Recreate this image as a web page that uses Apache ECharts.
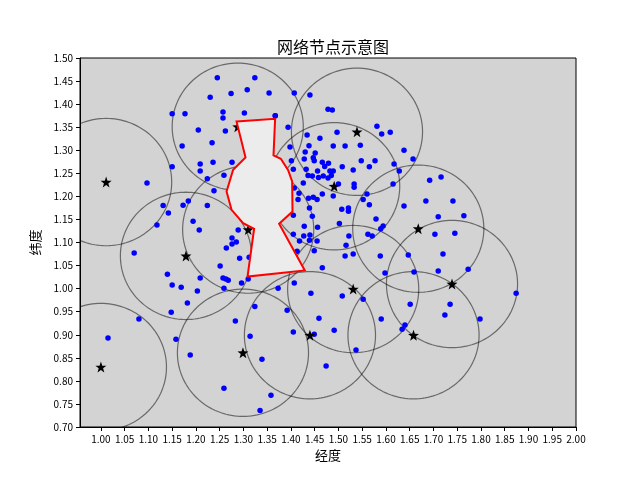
<!DOCTYPE html>
<html><head><meta charset="utf-8">
<script src="https://cdn.jsdelivr.net/npm/echarts@6/dist/echarts.min.js"></script>
<style>html,body{margin:0;padding:0;background:#fff}#c{width:640px;height:480px}</style>
</head><body><div id="c"></div>
<script>
// ---- data ----
const xTicks = [1.00,1.05,1.10,1.15,1.20,1.25,1.30,1.35,1.40,1.45,1.50,1.55,1.60,1.65,1.70,1.75,1.80,1.85,1.90,1.95,2.00];
const yTicks = [0.70,0.75,0.80,0.85,0.90,0.95,1.00,1.05,1.10,1.15,1.20,1.25,1.30,1.35,1.40,1.45,1.50];
const xRange = [0.956, 2.0];
const yRange = [0.70, 1.50];

const nodeLon = [1.245,1.274,1.230,1.257,1.257,1.150,1.177,1.205,1.262,1.171,1.234,1.150,1.209,1.236,1.276,1.209,1.097,1.259,1.224,1.238,
1.131,1.173,1.184,1.142,1.224,1.118,1.194,1.207,1.289,1.308,1.302,1.324,1.354,1.407,1.440,1.367,1.478,1.487,1.394,1.581,
1.591,1.609,1.434,1.461,1.497,1.398,1.430,1.438,1.451,1.489,1.514,1.546,1.638,1.657,1.401,1.428,1.447,1.449,1.466,1.479,
1.471,1.548,1.577,1.508,1.565,1.531,1.405,1.432,1.456,1.482,1.489,1.436,1.445,1.458,1.468,1.478,1.485,1.617,1.628,1.426,
1.500,1.533,1.533,1.615,1.692,1.716,1.407,1.417,1.466,1.489,1.560,1.415,1.437,1.447,1.455,1.552,1.565,1.507,1.521,1.521,
1.439,1.405,1.445,1.579,1.638,1.684,1.741,1.710,1.764,1.428,1.456,1.502,1.589,1.594,1.405,1.427,1.440,1.439,1.418,1.455,
1.413,1.449,1.522,1.516,1.514,1.531,1.562,1.571,1.588,1.647,1.659,1.598,1.466,1.703,1.745,1.720,1.710,1.773,1.874,1.735,
1.724,1.798,1.276,1.285,1.276,1.264,1.292,1.312,1.251,1.257,1.263,1.268,1.296,1.310,1.259,1.140,1.150,1.169,1.209,1.203,
1.182,1.148,1.080,1.015,1.158,1.188,1.259,1.070,1.283,1.324,1.314,1.339,1.358,1.335,1.373,1.407,1.392,1.405,1.442,1.459,
1.449,1.491,1.474,1.508,1.537,1.552,1.590,1.651,1.634,1.640,1.367];
const nodeLat = [1.457,1.423,1.415,1.383,1.370,1.379,1.379,1.344,1.342,1.309,1.316,1.264,1.270,1.274,1.274,1.255,1.229,1.246,1.238,1.212,
1.180,1.181,1.190,1.164,1.180,1.138,1.146,1.127,1.127,1.431,1.381,1.457,1.424,1.424,1.420,1.375,1.389,1.387,1.350,1.352,
1.335,1.339,1.333,1.326,1.339,1.307,1.296,1.310,1.294,1.309,1.309,1.311,1.300,1.281,1.277,1.281,1.284,1.277,1.274,1.272,
1.265,1.277,1.277,1.264,1.264,1.257,1.259,1.259,1.255,1.255,1.255,1.245,1.244,1.241,1.244,1.240,1.245,1.270,1.255,1.229,
1.227,1.227,1.220,1.227,1.235,1.242,1.218,1.207,1.205,1.201,1.205,1.193,1.196,1.198,1.193,1.193,1.182,1.172,1.175,1.168,
1.175,1.159,1.157,1.151,1.179,1.190,1.190,1.156,1.158,1.135,1.133,1.141,1.130,1.136,1.118,1.114,1.116,1.105,1.103,1.103,
1.081,1.082,1.114,1.094,1.071,1.075,1.118,1.114,1.071,1.073,1.036,1.034,1.045,1.118,1.120,1.075,1.038,1.042,0.990,0.966,
0.943,0.934,1.110,1.101,1.097,1.088,1.066,1.068,1.049,1.023,1.021,1.018,1.012,1.021,1.001,1.031,1.008,1.003,1.023,0.995,
0.969,0.949,0.934,0.893,0.890,0.856,0.784,1.077,0.930,0.961,0.897,0.847,0.769,0.736,1.001,1.012,0.953,0.906,0.990,0.936,
0.901,0.910,0.832,0.984,0.867,0.977,0.934,0.966,0.912,0.921,1.375];

const centerLon = [1.011,1.000,1.179,1.288,1.539,1.491,1.310,1.668,1.531,1.440,1.299,1.658,1.739];
const centerLat = [1.231,0.830,1.071,1.351,1.340,1.222,1.128,1.130,0.999,0.899,0.861,0.899,1.010];
const coverRadius = 0.138;

const regionLon = [1.2855,1.3667,1.3633,1.3787,1.3941,1.4025,1.4033,1.3751,1.4292,1.3086,1.3225,1.2994,1.2750,1.2645,1.2783,1.3044];
const regionLat = [1.3625,1.3683,1.2887,1.2816,1.2570,1.2323,1.1672,1.1406,1.0393,1.0262,1.1297,1.1421,1.1709,1.2106,1.2577,1.2844];

// ---- chart ----
const chart = echarts.init(document.getElementById('c'), null, {renderer:'canvas'});
const fontFam = '"Noto Sans CJK SC", "DejaVu Sans", sans-serif';
const starPath = 'path://M0,-10 L2.35,-3.24 L9.51,-3.09 L3.80,1.24 L5.88,8.09 L0,4 L-5.88,8.09 L-3.80,1.24 L-9.51,-3.09 L-2.35,-3.24 Z';

const nodes = nodeLon.map((v,i)=>[v, nodeLat[i]]);
const centers = centerLon.map((v,i)=>[v, centerLat[i]]);

chart.setOption({
  animation:false,
  backgroundColor:'#ffffff',
  title:{text:'网络节点示意图', left:272, top:34,
    textStyle:{fontFamily:fontFam, fontSize:16, fontWeight:'normal', color:'#000'}},
  grid:{left:80, right:64, top:58, bottom:53, show:true, backgroundColor:'#d3d3d3', borderColor:'#000', borderWidth:1},
  xAxis:{type:'value', min:xRange[0], max:xRange[1],
    name:'经度', nameLocation:'middle', nameGap:22,
    nameTextStyle:{fontFamily:fontFam, fontSize:13, color:'#000'},
    axisLine:{show:true, onZero:false, lineStyle:{color:'#000', width:1}},
    axisTick:{show:true, customValues:xTicks, length:4, lineStyle:{color:'#000'}},
    axisLabel:{customValues:xTicks, formatter:v=>v.toFixed(2), margin:7, fontFamily:fontFam, fontSize:10, color:'#000'},
    splitLine:{show:false}},
  yAxis:{type:'value', min:yRange[0], max:yRange[1],
    name:'纬度', nameLocation:'middle', nameGap:38,
    nameTextStyle:{fontFamily:fontFam, fontSize:13, color:'#000'},
    axisLine:{show:true, onZero:false, lineStyle:{color:'#000', width:1}},
    axisTick:{show:true, customValues:yTicks, length:4, lineStyle:{color:'#000'}},
    axisLabel:{customValues:yTicks, formatter:v=>v.toFixed(2), margin:7, fontFamily:fontFam, fontSize:10, color:'#000'},
    splitLine:{show:false}},
  series:[
    {type:'custom', name:'覆盖范围', clip:true, z:2, data:centers,
     renderItem:function(params, api){
       const c = api.coord([api.value(0), api.value(1)]);
       const s = api.size([coverRadius, coverRadius]);
       const pts = [];
       for (let k=0;k<=144;k++){ const a = 2*Math.PI*k/144; pts.push([c[0]+s[0]*Math.cos(a), c[1]+s[1]*Math.sin(a)]); }
       return {type:'polyline', shape:{points:pts}, style:{stroke:'rgba(0,0,0,0.5)', lineWidth:1.2, fill:null}};
     }},
    {type:'scatter', name:'节点', z:3, data:nodes, symbol:'circle', symbolSize:5.5,
     itemStyle:{color:'#0000ff', opacity:1}},
    {type:'scatter', name:'中心', z:4, data:centers, symbol:starPath, symbolSize:11,
     itemStyle:{color:'#000000', opacity:1}},
    {type:'custom', name:'区域', z:5, data:[[regionLon[0], regionLat[0]]],
     renderItem:function(params, api){
       const pts = regionLon.map((v,i)=>api.coord([v, regionLat[i]]));
       return {type:'polygon', shape:{points:pts}, style:{fill:'#ececec', stroke:'#ff0000', lineWidth:2, lineJoin:'miter'}};
     }}
  ]
});
</script></body></html>
